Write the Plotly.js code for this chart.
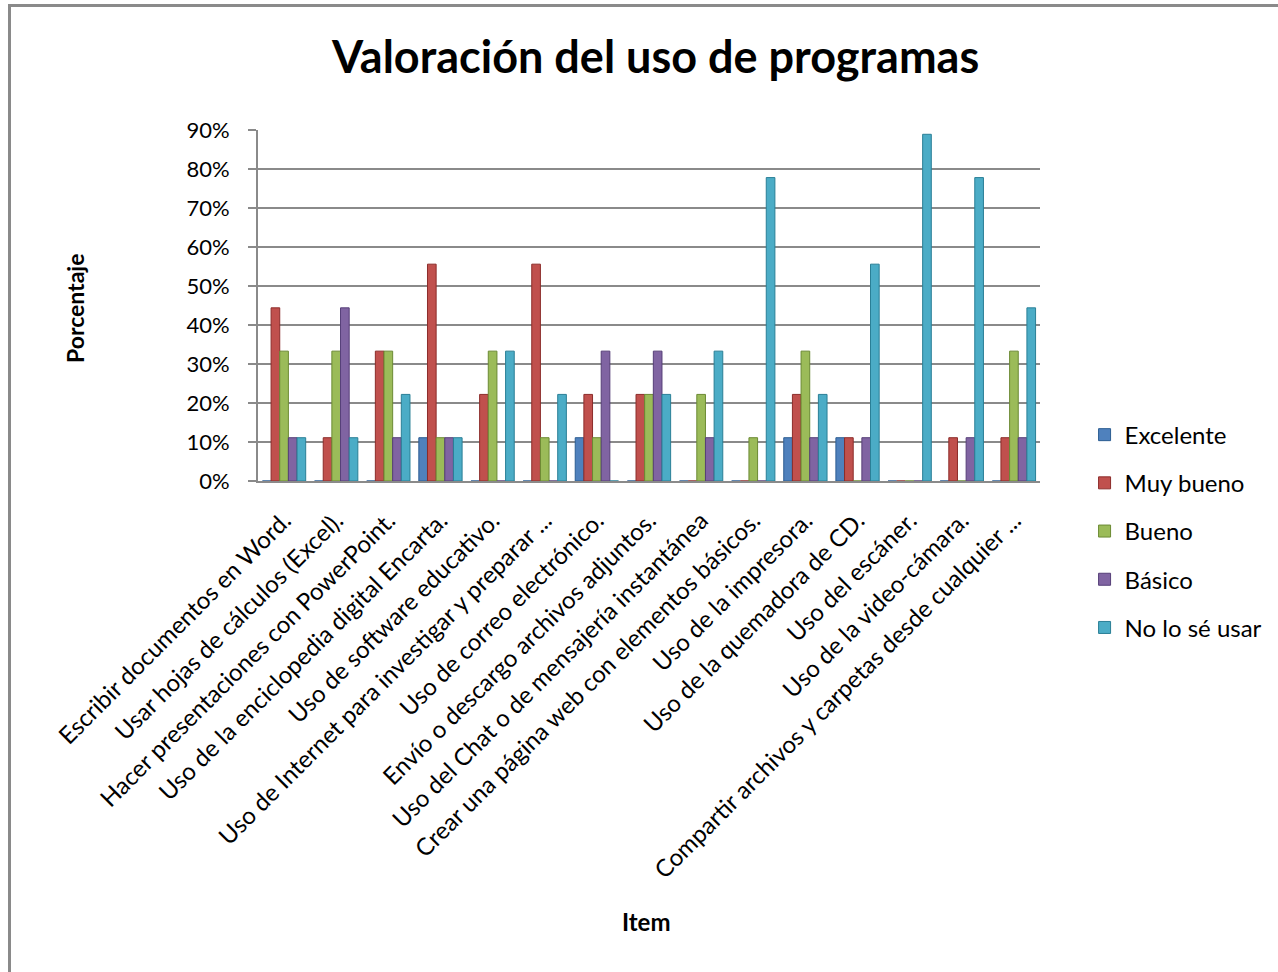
<!DOCTYPE html>
<html>
<head>
<meta charset="utf-8">
<script src="https://cdn.plot.ly/plotly-3.0.1.min.js"></script>
<style>
html,body{margin:0;padding:0;background:#fff;}
#wrap{position:relative;width:1278px;height:972px;}
#chart{position:absolute;left:0;top:0;width:1278px;height:972px;}
#frame{position:absolute;left:8px;top:4px;width:1280px;height:980px;border-left:3px solid #8a8a8a;border-top:3px solid #8a8a8a;pointer-events:none;}
</style>
</head>
<body>
<div id="wrap"><div id="chart"></div><div id="frame"></div></div>
<script>
const categories = [
  "Escribir documentos en Word.",
  "Usar hojas de cálculos (Excel).",
  "Hacer presentaciones con PowerPoint.",
  "Uso de la enciclopedia digital Encarta.",
  "Uso de software educativo.",
  "Uso de Internet para investigar y preparar ...",
  "Uso de correo electrónico.",
  "Envío o descargo archivos adjuntos.",
  "Uso del Chat o de mensajería instantánea",
  "Crear una página web con elementos básicos.",
  "Uso de la impresora.",
  "Uso de la quemadora de CD.",
  "Uso del escáner.",
  "Uso de la video-cámara.",
  "Compartir archivos y carpetas desde cualquier ..."
];
const seriesNames = ["Excelente", "Muy bueno", "Bueno", "Básico", "No lo sé usar"];
const excelente = [0, 0, 0, 0.111, 0, 0, 0.111, 0, 0, 0, 0.111, 0.111, 0, 0, 0];
const muyBueno  = [0.444, 0.111, 0.333, 0.556, 0.222, 0.556, 0.222, 0.222, 0, 0, 0.222, 0.111, 0, 0.111, 0.111];
const bueno     = [0.333, 0.333, 0.333, 0.111, 0.333, 0.111, 0.111, 0.222, 0.222, 0.111, 0.333, 0, 0, 0, 0.333];
const basico    = [0.111, 0.444, 0.111, 0.111, 0, 0, 0.333, 0.333, 0.111, 0, 0.111, 0.111, 0, 0.111, 0.111];
const noLoSe    = [0.111, 0.111, 0.222, 0.111, 0.333, 0.222, 0, 0.222, 0.333, 0.778, 0.222, 0.556, 0.889, 0.778, 0.444];
const yTicks = [0, 0.1, 0.2, 0.3, 0.4, 0.5, 0.6, 0.7, 0.8, 0.9];
const yTickText = ["0%", "10%", "20%", "30%", "40%", "50%", "60%", "70%", "80%", "90%"];

const colors = ["#4F81BD", "#C0504D", "#9BBB59", "#8064A2", "#4BACC6"];
const lineColors = ["#2c5d92", "#8c2c2a", "#6b8a33", "#563f78", "#2a7f96"];
const allSeries = [excelente, muyBueno, bueno, basico, noLoSe];
const FONT = "Lato, 'Open Sans', sans-serif";

const traces = allSeries.map((vals, i) => ({
  type: "bar",
  name: seriesNames[i],
  x: categories,
  y: vals,
  legendgroup: "g" + i,
  marker: {color: colors[i], line: {color: lineColors[i], width: 1}},
  hoverinfo: "x+y+name"
}));

const layout = {
  width: 1278, height: 972,
  paper_bgcolor: "#ffffff", plot_bgcolor: "#ffffff",
  margin: {l: 258, r: 238, t: 130, b: 491, autoexpand: false},
  barmode: "group",
  bargap: 0.17, bargroupgap: 0,
  font: {family: FONT, color: "#000"},
  title: {text: "<b>Valoración del uso de programas</b>", x: 0.513, xanchor: "center", y: 0.941, yanchor: "middle",
          font: {size: 45, family: FONT, color: "#000"}},
  xaxis: {
    type: "category",
    tickangle: -45,
    tickfont: {size: 24, family: FONT, color: "#000"},
    ticklabelstandoff: 14,
    showgrid: false,
    showline: true, linecolor: "#8a8a8a", linewidth: 2,
    ticks: "", automargin: false
  },
  yaxis: {
    range: [0, 0.9],
    tickvals: yTicks, ticktext: yTickText,
    tickfont: {size: 22, family: FONT, color: "#000"},
    ticklabelstandoff: 14,
    showgrid: true, gridcolor: "#8a8a8a", gridwidth: 2,
    showline: true, linecolor: "#8a8a8a", linewidth: 2,
    ticks: "outside", ticklen: 8, tickcolor: "#8a8a8a", tickwidth: 2,
    zeroline: false, automargin: false
  },
  legend: {
    x: 1.057, xanchor: "left", y: 0.195, yanchor: "top",
    traceorder: "grouped", tracegroupgap: 14,
    font: {size: 24, family: FONT, color: "#000"},
    itemwidth: 30
  },
  annotations: [
    {text: "<b>Porcentaje</b>", xref: "paper", yref: "paper", x: -0.234, y: 0.49,
     xanchor: "center", yanchor: "middle",
     textangle: -90, showarrow: false, font: {size: 23, family: FONT, color: "#000"}},
    {text: "<b>Item</b>", xref: "paper", yref: "paper", x: 0.497, y: -1.256,
     xanchor: "center", yanchor: "middle",
     showarrow: false, font: {size: 24, family: FONT, color: "#000"}}
  ]
};

Plotly.newPlot("chart", traces, layout, {displayModeBar: false});
</script>
</body>
</html>
